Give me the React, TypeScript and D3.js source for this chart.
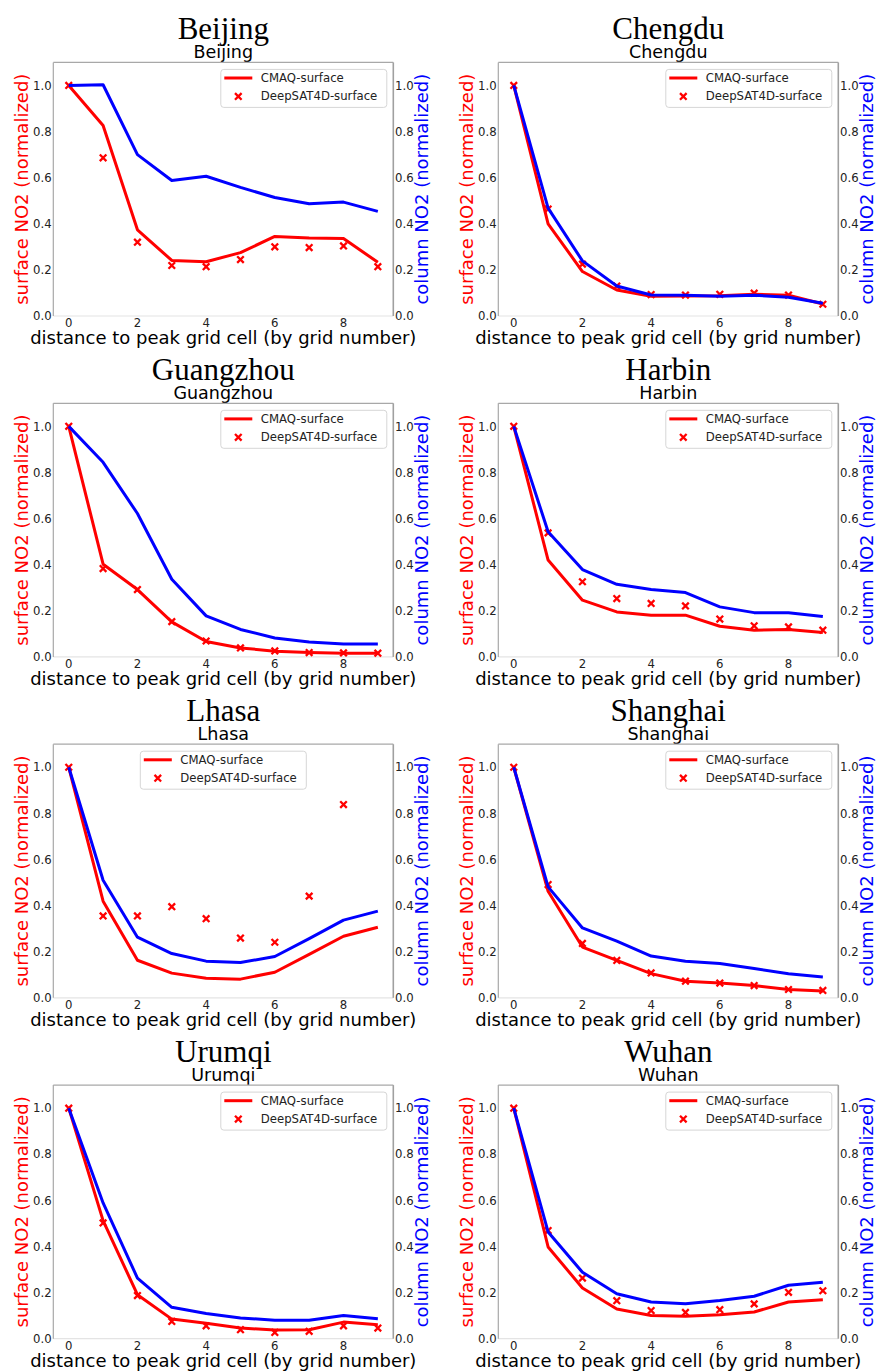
import React from "react";
import * as d3 from "d3";

// Cities shown, in panel order (row by row, two per row)
const cities = ["Beijing", "Chengdu", "Guangzhou", "Harbin", "Lhasa", "Shanghai", "Urumqi", "Wuhan"];

// Distance to peak grid cell
const distances = [0, 1, 2, 3, 4, 5, 6, 7, 8, 9];

// CMAQ surface NO2 (normalized), one row per city
const cmaqSurface: number[][] = [
  [1.0, 0.826, 0.374, 0.241, 0.235, 0.275, 0.345, 0.338, 0.336, 0.233],
  [1.0, 0.40, 0.193, 0.113, 0.086, 0.087, 0.088, 0.094, 0.09, 0.052],
  [1.0, 0.402, 0.292, 0.152, 0.067, 0.039, 0.025, 0.019, 0.016, 0.016],
  [1.0, 0.42, 0.246, 0.195, 0.181, 0.181, 0.133, 0.116, 0.119, 0.106],
  [1.0, 0.419, 0.163, 0.107, 0.085, 0.081, 0.111, 0.188, 0.267, 0.306],
  [1.0, 0.462, 0.22, 0.162, 0.105, 0.072, 0.064, 0.053, 0.036, 0.029],
  [1.0, 0.512, 0.191, 0.085, 0.067, 0.046, 0.038, 0.039, 0.072, 0.061],
  [1.0, 0.398, 0.22, 0.129, 0.101, 0.097, 0.104, 0.116, 0.159, 0.169],
];

// DeepSAT4D surface NO2 (normalized); null where no estimate is drawn
const deepsatSurface: (number | null)[][] = [
  [1.0, 0.686, 0.32, 0.219, 0.214, 0.245, 0.30, 0.297, 0.304, 0.214],
  [1.0, 0.464, 0.225, 0.13, 0.093, 0.091, 0.094, 0.099, 0.091, 0.051],
  [1.0, 0.383, 0.292, 0.153, 0.069, 0.039, 0.026, 0.019, 0.017, 0.016],
  [1.0, 0.538, 0.326, 0.253, 0.232, 0.221, 0.164, 0.135, 0.13, 0.116],
  [1.0, 0.355, 0.355, 0.395, 0.343, 0.259, 0.241, 0.441, 0.838, null],
  [1.0, 0.491, 0.236, 0.162, 0.108, 0.072, 0.064, 0.053, 0.036, 0.032],
  [1.0, 0.502, 0.187, 0.075, 0.056, 0.039, 0.027, 0.032, 0.056, 0.046],
  [1.0, 0.469, 0.263, 0.165, 0.122, 0.114, 0.126, 0.151, 0.201, 0.208],
];

// Satellite column NO2 (normalized)
const columnNO2: number[][] = [
  [1.0, 1.003, 0.70, 0.588, 0.606, 0.558, 0.514, 0.487, 0.494, 0.454],
  [1.0, 0.468, 0.239, 0.13, 0.091, 0.09, 0.086, 0.09, 0.081, 0.055],
  [1.0, 0.844, 0.622, 0.337, 0.178, 0.119, 0.082, 0.065, 0.056, 0.056],
  [1.0, 0.543, 0.379, 0.315, 0.292, 0.279, 0.217, 0.192, 0.192, 0.175],
  [1.0, 0.51, 0.263, 0.192, 0.159, 0.153, 0.179, 0.257, 0.337, 0.376],
  [1.0, 0.481, 0.303, 0.246, 0.181, 0.159, 0.149, 0.127, 0.104, 0.09],
  [1.0, 0.589, 0.263, 0.136, 0.109, 0.09, 0.08, 0.08, 0.101, 0.087],
  [1.0, 0.463, 0.288, 0.195, 0.159, 0.152, 0.166, 0.184, 0.232, 0.245],
];

// Legend placement per city
const legendLoc = ["right", "right", "right", "right", "center", "right", "right", "right"];

const xTicks = [0, 2, 4, 6, 8];
const yTicks = [0, 0.2, 0.4, 0.6, 0.8, 1.0];

const W = 876;
const H = 1372;
const SANS = "'DejaVu Sans', sans-serif";
const SERIF = "'Liberation Serif', 'Times New Roman', serif";
const RED = "#ff0000";
const BLUE = "#0000ff";

const plotW = 340;
const plotH = 253.6;
const colLeft = [53.3, 498.3];
const rowTop = (r: number) => 62.4 + r * 340.9;

function Cross({ x, y }: { x: number; y: number }) {
  const s = 3.3;
  return (
    <path
      d={`M${x - s},${y - s}L${x + s},${y + s}M${x - s},${y + s}L${x + s},${y - s}`}
      stroke={RED}
      strokeWidth={2.3}
      fill="none"
    />
  );
}

function Panel({ idx }: { idx: number }) {
  const col = idx % 2;
  const row = Math.floor(idx / 2);
  const left = colLeft[col];
  const top = rowTop(row);
  const x = d3.scaleLinear().domain([-0.45, 9.45]).range([left, left + plotW]);
  const yL = d3.scaleLinear().domain([0, 1.1]).range([top + plotH, top]);
  const yR = d3.scaleLinear().domain([0, 1.1]).range([top + plotH, top]);
  const bottom = top + plotH;
  const right = left + plotW;
  const cx = left + plotW / 2;

  const redLine = d3
    .line<number>()
    .x((_, i) => x(distances[i]))
    .y((d) => yL(d))(cmaqSurface[idx]) as string;
  const blueLine = d3
    .line<number>()
    .x((_, i) => x(distances[i]))
    .y((d) => yR(d))(columnNO2[idx]) as string;

  const lw = 166;
  const lh = 38;
  const lx = legendLoc[idx] === "center" ? cx - lw / 2 : right - 6.5 - lw;
  const ly = top + 7;

  return (
    <g>
      {/* titles */}
      <text x={cx} y={top - 23} textAnchor="middle" fontFamily={SERIF} fontSize={31} fill="#000">
        {cities[idx]}
      </text>
      <text x={cx} y={top - 4} textAnchor="middle" fontFamily={SANS} fontSize={17.5} fill="#000">
        {cities[idx]}
      </text>

      {/* frame */}
      <line x1={left} x2={right} y1={bottom} y2={bottom} stroke="#e4e4e4" strokeWidth={1.2} />
      <line x1={left} x2={right} y1={top} y2={top} stroke="#a8a8a8" strokeWidth={1.2} />
      <line x1={left} x2={left} y1={top} y2={bottom} stroke="#a8a8a8" strokeWidth={1.2} />
      <line x1={right} x2={right} y1={top} y2={bottom} stroke="#a0a0a0" strokeWidth={1.6} />

      {/* ticks */}
      {xTicks.map((t) => (
        <text key={"x" + t} x={x(t)} y={bottom + 11.2} textAnchor="middle" fontFamily={SANS} fontSize={11.7} fill="#222">
          {t}
        </text>
      ))}
      {yTicks.map((t) => (
        <text key={"yl" + t} x={left - 1.6} y={yL(t)} dy="0.36em" textAnchor="end" fontFamily={SANS} fontSize={11.7} fill="#222">
          {d3.format(".1f")(t)}
        </text>
      ))}
      {yTicks.map((t) => (
        <text key={"yr" + t} x={right + 1.8} y={yR(t)} dy="0.36em" textAnchor="start" fontFamily={SANS} fontSize={11.7} fill="#222">
          {d3.format(".1f")(t)}
        </text>
      ))}

      {/* axis labels */}
      <text
        transform={`translate(${left - 25.8},${top + plotH / 2}) rotate(-90)`}
        textAnchor="middle"
        fontFamily={SANS}
        fontSize={18}
        fill={RED}
      >
        surface NO2 (normalized)
      </text>
      <text
        transform={`translate(${right + 35},${top + plotH / 2}) rotate(-90)`}
        textAnchor="middle"
        fontFamily={SANS}
        fontSize={18}
        fill={BLUE}
      >
        column NO2 (normalized)
      </text>
      <text x={cx} y={bottom + 28} textAnchor="middle" fontFamily={SANS} fontSize={18} fill="#000">
        distance to peak grid cell (by grid number)
      </text>

      {/* surface series */}
      <path d={redLine} fill="none" stroke={RED} strokeWidth={3} strokeLinejoin="round" />
      {deepsatSurface[idx].map((v, i) =>
        v == null ? null : <Cross key={"m" + i} x={x(distances[i])} y={yL(v)} />
      )}

      {/* legend */}
      <rect x={lx} y={ly} width={lw} height={lh} rx={3} fill="#fff" fillOpacity={0.8} stroke="#d6d6d6" strokeWidth={1} />
      <line x1={lx + 3.5} x2={lx + 31.5} y1={ly + 8.6} y2={ly + 8.6} stroke={RED} strokeWidth={3} />
      <text x={lx + 40} y={ly + 12.7} fontFamily={SANS} fontSize={11.7} fill="#222">
        CMAQ-surface
      </text>
      <Cross x={lx + 17.5} y={ly + 27} />
      <text x={lx + 40} y={ly + 31} fontFamily={SANS} fontSize={11.7} fill="#222">
        DeepSAT4D-surface
      </text>

      {/* column series (twin axis, drawn on top) */}
      <path d={blueLine} fill="none" stroke={BLUE} strokeWidth={3} strokeLinejoin="round" />
    </g>
  );
}

export default function App() {
  return (
    <div style={{ position: "absolute", left: 0, top: 0, width: W, height: H, background: "#fff" }}>
      <svg width={W} height={H} viewBox={`0 0 ${W} ${H}`} style={{ display: "block" }}>
        <rect width={W} height={H} fill="#fff" />
        {cities.map((_, i) => (
          <Panel key={cities[i]} idx={i} />
        ))}
      </svg>
    </div>
  );
}
